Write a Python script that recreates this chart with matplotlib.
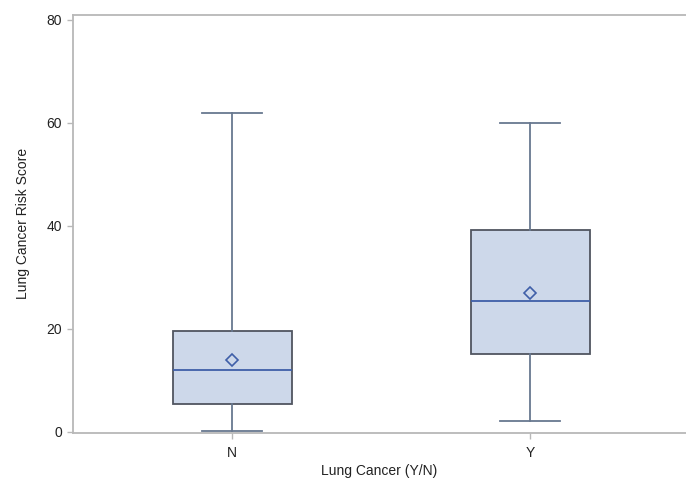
import matplotlib
matplotlib.use("Agg")
import matplotlib.pyplot as plt

categories = ["N", "Y"]
whislo = [0.2, 2.1]
q1 = [5.4, 15.1]
med = [12.0, 25.4]
q3 = [19.5, 39.2]
whishi = [61.8, 60.0]
means = [14.0, 27.0]
yticks = [0, 20, 40, 60, 80]

plt.rcParams['font.family'] = ['Liberation Sans', 'DejaVu Sans']
fig = plt.figure(figsize=(6.86, 4.82), dpi=100)
W, H = 686, 482
ax = fig.add_axes([73 / W, 1 - 433 / H, 613 / W, (433 - 14.5) / H])

stats = []
for i, c in enumerate(categories):
    stats.append(dict(label=c, whislo=whislo[i], q1=q1[i], med=med[i],
                      q3=q3[i], whishi=whishi[i], mean=means[i], fliers=[]))

ax.bxp(stats, positions=[0, 1], widths=0.4, patch_artist=True, showmeans=True,
       boxprops=dict(facecolor='#cdd8ea', edgecolor='#505560', linewidth=1.3),
       medianprops=dict(color='#3f5fa8', linewidth=1.3),
       whiskerprops=dict(color='#687890', linewidth=1.3),
       capprops=dict(color='#687890', linewidth=1.3),
       meanprops=dict(marker='D', markerfacecolor='none', markeredgecolor='#3f5fa8',
                      markersize=6.5, markeredgewidth=1.2),
       capwidths=0.2)

ax.set_xlim(-0.534, 1.523)
ax.set_ylim(-0.2, 81)
ax.set_yticks(yticks)
ax.set_xticks([0, 1])
ax.set_xticklabels(categories)
ax.spines['right'].set_visible(False)
for s in ['left', 'top', 'bottom']:
    ax.spines[s].set_color('#b8b8b8')
    ax.spines[s].set_linewidth(1.3)
ax.tick_params(colors='#b8b8b8', labelcolor='#222222', labelsize=10, length=4.5, width=1)
ax.tick_params(axis='x', pad=5)
ax.set_ylabel('Lung Cancer Risk Score', fontsize=10, color='#222222', labelpad=12)
ax.set_xlabel('Lung Cancer (Y/N)', fontsize=10, color='#222222', labelpad=3)

fig.savefig('out.png', dpi=100)
